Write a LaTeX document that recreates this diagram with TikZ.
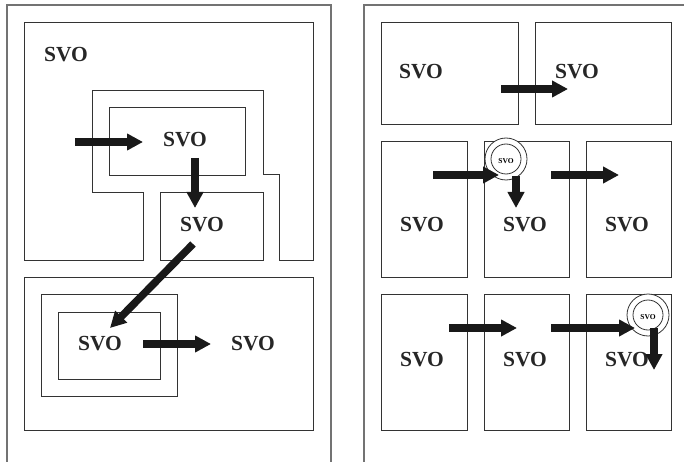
\documentclass[tikz,border=0pt]{standalone}
\usepackage{fontspec}
\setmainfont{Liberation Serif}
\usetikzlibrary{arrows.meta}
\begin{document}
\begin{tikzpicture}[x=1pt,y=-1pt,
  boxline/.style={draw=black!80, line width=0.9pt},
  frameline/.style={draw=black!55, line width=1.1pt},
  lbl/.style={font=\bfseries\fontsize{21.5}{21.5}\selectfont, inner sep=0pt, text=black!85},
  smalllbl/.style={font=\bfseries\fontsize{7.5}{8}\selectfont, inner sep=0pt},
  ring/.style={draw=black!80, line width=0.8pt, fill=white},
  blk/.style={line width=7.5pt, draw=black!90, -{Triangle[width=16pt,length=16pt]}}]
\useasboundingbox (0,0) rectangle (684,462);
% panel frames
\draw[frameline] (7,462) -- (7,5) -- (331,5) -- (331,462);
\draw[frameline] (364,462) -- (364,5) -- (684,5);

% ---------- left panel, upper part ----------
\draw[boxline] (143,260) -- (24,260) -- (24,22) -- (313,22) -- (313,260) -- (279,260)
  -- (279,174) -- (263,174) -- (263,90) -- (92,90) -- (92,192) -- (143,192) -- cycle;
\draw[boxline] (109,107) rectangle (245,175);
\draw[boxline] (160,192) rectangle (263,260);
\node[lbl] (l1) at (66,55) {SVO};
\node[lbl] (l2) at (185,140) {SVO};
\node[lbl] (l3) at (202,225) {SVO};

% ---------- left panel, lower part ----------
\draw[boxline] (24,277) rectangle (313,430);
\draw[boxline] (41,294) rectangle (177,396);
\draw[boxline] (58,312) rectangle (160,379);
\node[lbl] (l4) at (100,344) {SVO};
\node[lbl] (l5) at (253,344) {SVO};

\coordinate (a1s) at (75,142);  \coordinate (a1e) at (143,142);
\coordinate (a2s) at (195,158); \coordinate (a2e) at (195,208);
\coordinate (a3s) at (193,244); \coordinate (a3e) at (110,328);
\coordinate (a4s) at (143,344); \coordinate (a4e) at (211,344);
\draw[blk] (a1s) -- (a1e);
\draw[blk] (a2s) -- (a2e);
\draw[blk] (a3s) -- (a3e);
\draw[blk] (a4s) -- (a4e);

% ---------- right panel ----------
\draw[boxline] (381,22) rectangle (518,124);
\draw[boxline] (535,22) rectangle (671,124);
\node[lbl] (r1) at (421,72) {SVO};
\node[lbl] (r2) at (577,72) {SVO};

\draw[boxline] (381,141) rectangle (467,277);
\draw[boxline] (484,141) rectangle (569,277);
\draw[boxline] (586,141) rectangle (671,277);
\node[lbl] (r3) at (422,225) {SVO};
\node[lbl] (r4) at (525,225) {SVO};
\node[lbl] (r5) at (627,225) {SVO};

\draw[boxline] (381,294) rectangle (467,430);
\draw[boxline] (484,294) rectangle (569,430);
\draw[boxline] (586,294) rectangle (671,430);
\node[lbl] (r6) at (422,360) {SVO};
\node[lbl] (r7) at (525,360) {SVO};
\node[lbl] (r8) at (627,360) {SVO};

% rings
\draw[ring] (506,159) circle[radius=21pt];
\draw[ring] (506,159) circle[radius=15pt];
\node[smalllbl] (c1) at (506,161) {SVO};
\draw[ring] (648,315) circle[radius=21pt];
\draw[ring] (648,315) circle[radius=15pt];
\node[smalllbl] (c2) at (648,317) {SVO};

\coordinate (b1s) at (501,89);  \coordinate (b1e) at (568,89);
\coordinate (b2s) at (433,175); \coordinate (b2e) at (499,175);
\coordinate (b3s) at (516,176); \coordinate (b3e) at (516,208);
\coordinate (b4s) at (551,175); \coordinate (b4e) at (619,175);
\coordinate (b5s) at (449,328); \coordinate (b5e) at (517,328);
\coordinate (b6s) at (551,328); \coordinate (b6e) at (635,328);
\coordinate (b7s) at (654,328); \coordinate (b7e) at (654,370);
\draw[blk] (b1s) -- (b1e);
\draw[blk] (b2s) -- (b2e);
\draw[blk] (b3s) -- (b3e);
\draw[blk] (b4s) -- (b4e);
\draw[blk] (b5s) -- (b5e);
\draw[blk] (b6s) -- (b6e);
\draw[blk] (b7s) -- (b7e);
\end{tikzpicture}
\end{document}
